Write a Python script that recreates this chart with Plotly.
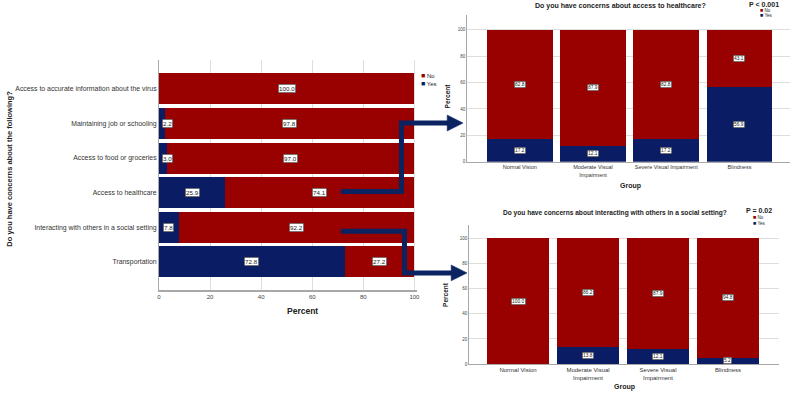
import plotly.graph_objects as go

W, H = 795, 395

# ---------------- data ----------------
left_categories = [
    "Transportation",
    "Interacting with others in a social setting",
    "Access to healthcare",
    "Access to food or groceries",
    "Maintaining job or schooling",
    "Access to accurate information about the virus",
]
left_yes = [72.8, 7.8, 25.9, 3.0, 2.2, 0.0]
left_no = [27.2, 92.2, 74.1, 97.0, 97.8, 100.0]

groups = ["Normal Vision", "Moderate Visual Impairment", "Severe Visual Impairment", "Blindness"]
top_ticks = ["Normal Vision", "Moderate Visual<br>Impairment", "Severe Visual Impairment", "Blindness"]
bot_ticks = ["Normal Vision", "Moderate Visual<br>Impairment", "Severe Visual<br>Impairment", "Blindness"]

health_yes = [17.2, 12.1, 17.2, 56.9]
health_no = [82.8, 87.9, 82.8, 43.1]
social_yes = [0.0, 13.8, 12.1, 5.2]
social_no = [100.0, 86.2, 87.9, 94.8]

top_title = "Do you have concerns about access to healthcare?"
bot_title = "Do you have concerns about interacting with others in a social setting?"
top_p = "P < 0.001"
bot_p = "P = 0.02"

RED = "#990000"
NAVY = "#0a1c64"
ARROW = "#0b2361"
GRID = "#dedede"
AXIS = "#a8a8a8"
FONT = "Liberation Sans, Arial, sans-serif"

def px(x):
    return x / W

def py(y):
    return 1 - y / H

fig = go.Figure()

# left chart
fig.add_trace(go.Bar(y=left_categories, x=left_yes, orientation="h", name="Yes",
                     marker=dict(color=NAVY, line=dict(width=0)), xaxis="x", yaxis="y", showlegend=False))
fig.add_trace(go.Bar(y=left_categories, x=left_no, orientation="h", name="No",
                     marker=dict(color=RED, line=dict(width=0)), xaxis="x", yaxis="y", showlegend=False))
# top right
fig.add_trace(go.Bar(x=groups, y=health_yes, name="Yes", marker=dict(color=NAVY, line=dict(width=0)),
                     xaxis="x2", yaxis="y2", showlegend=False))
fig.add_trace(go.Bar(x=groups, y=health_no, name="No", marker=dict(color=RED, line=dict(width=0)),
                     xaxis="x2", yaxis="y2", showlegend=False))
# bottom right
fig.add_trace(go.Bar(x=groups, y=social_yes, name="Yes", marker=dict(color=NAVY, line=dict(width=0)),
                     xaxis="x3", yaxis="y3", showlegend=False))
fig.add_trace(go.Bar(x=groups, y=social_no, name="No", marker=dict(color=RED, line=dict(width=0)),
                     xaxis="x3", yaxis="y3", showlegend=False))

annotations = []

def label(x, y, text, xref, yref, size):
    annotations.append(dict(x=x, y=y, xref=xref, yref=yref, text=text, showarrow=False,
                            font=dict(family=FONT, size=size, color="#222"),
                            bgcolor="white", bordercolor="#444", borderwidth=0.6, borderpad=0.5))

# left data labels
for cat, yv, nv in zip(left_categories, left_yes, left_no):
    if yv > 0:
        label(max(yv / 2, 3.4), cat, f"{yv:.1f}", "x", "y", 6.2)
    label(yv + nv / 2, cat, f"{nv:.1f}", "x", "y", 6.2)

# right data labels
for g, yv, nv in zip(groups, health_yes, health_no):
    if yv > 0:
        label(g, yv / 2, f"{yv:.1f}", "x2", "y2", 4.8)
    label(g, yv + nv / 2, f"{nv:.1f}", "x2", "y2", 4.8)
for g, yv, nv in zip(groups, social_yes, social_no):
    if yv > 0:
        label(g, max(yv / 2, 3.0), f"{yv:.1f}", "x3", "y3", 4.8)
    label(g, yv + nv / 2, f"{nv:.1f}", "x3", "y3", 4.8)

def text(x, y, t, size, bold=False, angle=0, xanchor="center", color="#222"):
    annotations.append(dict(x=px(x), y=py(y), xref="paper", yref="paper",
                            text=f"<b>{t}</b>" if bold else t, showarrow=False, textangle=angle,
                            xanchor=xanchor, yanchor="middle",
                            font=dict(family=FONT, size=size, color=color)))

def legend(x, y, dy, size, sq):
    text(x, y, f"<span style='color:{RED};font-size:{sq}px'>■</span> No", size, xanchor="left")
    text(x, y + dy, f"<span style='color:{NAVY};font-size:{sq}px'>■</span> Yes", size, xanchor="left")

# left titles
text(8, 170, "Do you have concerns about the following?", 7.5, bold=True, angle=-90)
text(302, 313, "Percent", 8.5, bold=True)
legend(420, 76, 8, 6, 7)

# top right
text(622, 6, top_title, 7, bold=True)
text(767, 5, top_p, 7, bold=True)
legend(761, 10, 5.5, 4.5, 5.5)
text(632, 187, "Group", 7, bold=True)
text(448, 97, "Percent", 6.5, bold=True, angle=-90)

# bottom right
text(617, 215, bot_title, 6.6, bold=True)
text(762, 212, bot_p, 7, bold=True)
legend(754, 219, 5.5, 4.5, 5.5)
text(626, 390, "Group", 7, bold=True)
text(447, 297, "Percent", 6.5, bold=True, angle=-90)

# arrows (decorative connectors)
def pth(points):
    return "M " + " L ".join(f"{px(x)},{py(y)}" for x, y in points)

shapes = [
    dict(type="path", xref="paper", yref="paper",
         path=pth([(341, 193), (402, 193), (402, 124), (450, 124)]),
         line=dict(color=ARROW, width=5)),
    dict(type="path", xref="paper", yref="paper",
         path=pth([(448, 116), (464, 124), (448, 132)]) + " Z",
         fillcolor=ARROW, line=dict(color=ARROW, width=0.5)),
    dict(type="path", xref="paper", yref="paper",
         path=pth([(341, 233), (405, 233), (405, 275), (454, 275)]),
         line=dict(color=ARROW, width=5)),
    dict(type="path", xref="paper", yref="paper",
         path=pth([(452, 267), (468, 275), (452, 283)]) + " Z",
         fillcolor=ARROW, line=dict(color=ARROW, width=0.5)),
]

tickfont_small = dict(family=FONT, size=4.5, color="#444")

fig.update_layout(
    width=W, height=H,
    margin=dict(l=0, r=0, t=0, b=0),
    paper_bgcolor="white", plot_bgcolor="white",
    barmode="stack", bargap=0.105,
    font=dict(family=FONT),
    xaxis=dict(domain=[px(158), px(417.6)], range=[0, 101], tickvals=[0, 20, 40, 60, 80, 100],
               showgrid=True, gridcolor=GRID, gridwidth=1, zeroline=False,
               showline=True, linecolor=AXIS, linewidth=1.5, ticks="",
               tickfont=dict(family=FONT, size=6, color="#444"), anchor="y"),
    yaxis=dict(domain=[py(292), py(60)], range=[-0.81, 5.85], showgrid=False, zeroline=False,
               showline=True, linecolor=AXIS, linewidth=1, ticks="",
               categoryorder="array", categoryarray=left_categories,
               tickfont=dict(family=FONT, size=6.9, color="#333"), anchor="x"),
    xaxis2=dict(domain=[px(468), px(793)], range=[-0.72, 3.69], tickvals=groups, ticktext=top_ticks,
                showgrid=False, zeroline=False, showline=True, linecolor=AXIS, linewidth=1,
                ticks="", tickfont=dict(family=FONT, size=5.5, color="#333"), anchor="y2"),
    yaxis2=dict(domain=[py(163), py(15)], range=[0, 111.3], tickvals=[0, 20, 40, 60, 80, 100],
                showgrid=True, gridcolor=GRID, zeroline=False, showline=True, linecolor=AXIS,
                linewidth=1, ticks="", tickfont=tickfont_small, anchor="x2"),
    xaxis3=dict(domain=[px(470), px(782)], range=[-0.70, 3.73], tickvals=groups, ticktext=bot_ticks,
                showgrid=False, zeroline=False, showline=True, linecolor=AXIS, linewidth=1,
                ticks="", tickfont=dict(family=FONT, size=6, color="#333"), anchor="y3"),
    yaxis3=dict(domain=[py(367), py(227)], range=[0, 110.2], tickvals=[0, 20, 40, 60, 80, 100],
                showgrid=True, gridcolor=GRID, zeroline=False, showline=True, linecolor=AXIS,
                linewidth=1, ticks="", tickfont=tickfont_small, anchor="x3"),
    annotations=annotations,
    shapes=shapes,
)

fig.write_html("out.html", config={"displayModeBar": False},
               post_script="document.body.style.margin='0';")
